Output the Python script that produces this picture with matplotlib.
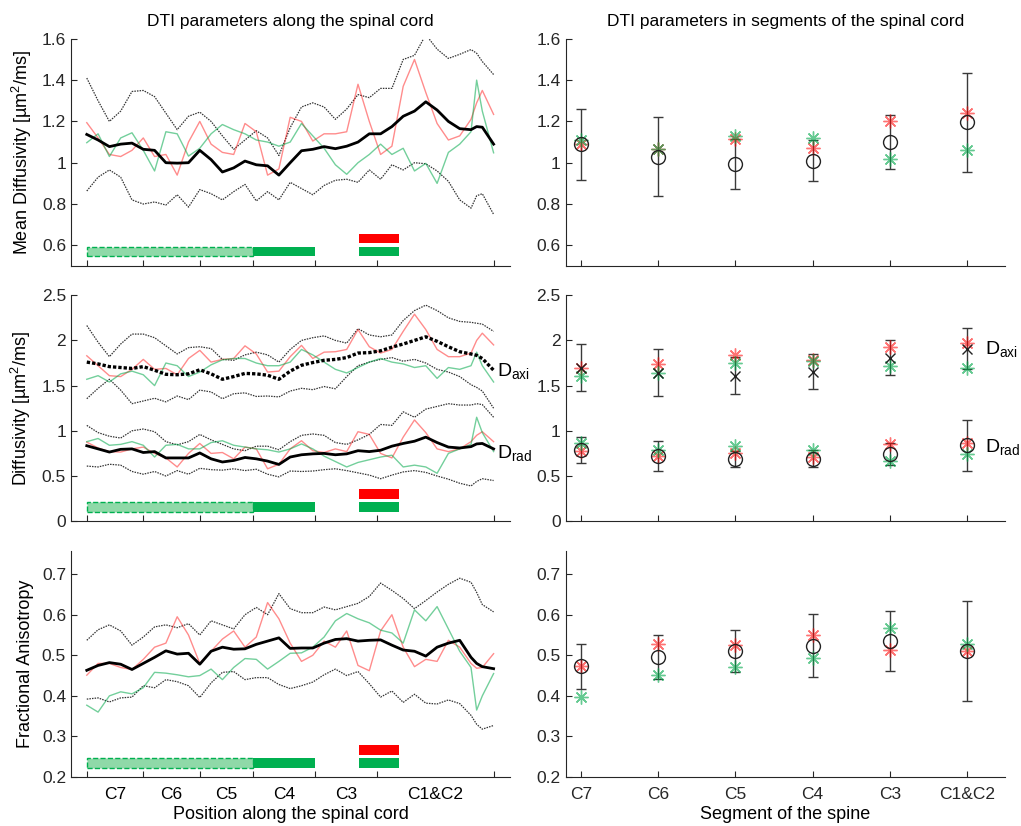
import numpy as np
import matplotlib
matplotlib.use("Agg")
import matplotlib.pyplot as plt
from matplotlib.patches import Rectangle
from matplotlib.transforms import blended_transform_factory

plt.rcParams['font.family'] = ['Liberation Sans', 'DejaVu Sans']
plt.rcParams['mathtext.fontset'] = 'custom'
plt.rcParams['mathtext.rm'] = 'Liberation Sans'
plt.rcParams['mathtext.it'] = 'Liberation Sans'
plt.rcParams['font.size'] = 12.5

# position along the cord (arbitrary units), segment boundaries and names
pos = list(range(0, 70, 2)) + [69, 70, 72]
bounds = [0, 10, 20, 29.4, 40.4, 51.4, 72]
segments = ['C7', 'C6', 'C5', 'C4', 'C3', 'C1&C2']

# mean diffusivity along the cord
md_mean = [1.137, 1.11, 1.078, 1.09, 1.095, 1.065, 1.06, 1.0, 0.998, 1.0, 1.06, 1.015, 0.955, 0.975,
           1.008, 0.99, 0.985, 0.94, 1.0, 1.058, 1.065, 1.078, 1.068, 1.08, 1.1, 1.14, 1.14, 1.175,
           1.225, 1.25, 1.295, 1.255, 1.2, 1.165, 1.16, 1.175, 1.172, 1.09]
md_hi = [1.41, 1.30, 1.20, 1.25, 1.345, 1.35, 1.32, 1.24, 1.16, 1.225, 1.245, 1.20, 1.13, 1.065,
         1.11, 1.155, 1.12, 1.035, 1.17, 1.27, 1.29, 1.27, 1.21, 1.26, 1.33, 1.315, 1.36, 1.36,
         1.50, 1.52, 1.62, 1.55, 1.505, 1.525, 1.548, 1.53, 1.49, 1.427]
md_lo = [0.863, 0.93, 0.965, 0.93, 0.82, 0.80, 0.81, 0.795, 0.845, 0.785, 0.87, 0.85, 0.82, 0.86,
         0.895, 0.815, 0.86, 0.82, 0.905, 0.875, 0.845, 0.89, 0.915, 0.92, 0.905, 0.965, 0.92, 0.99,
         0.965, 1.0, 0.995, 0.96, 0.91, 0.82, 0.78, 0.84, 0.85, 0.75]
md_red = [1.194, 1.12, 1.04, 1.03, 1.06, 1.12, 1.03, 1.04, 0.94, 1.1, 1.2, 1.09, 1.05, 1.04, 1.19,
          1.15, 0.94, 0.97, 1.22, 1.2, 1.105, 1.14, 1.14, 1.15, 1.38, 1.2, 1.04, 1.08, 1.37, 1.5,
          1.34, 1.19, 1.11, 1.13, 1.21, 1.29, 1.35, 1.234]
md_green = [1.097, 1.14, 1.03, 1.12, 1.145, 1.06, 0.96, 1.15, 1.14, 1.032, 1.07, 1.14, 1.185, 1.16,
            1.14, 1.11, 1.1, 1.08, 1.1, 1.19, 1.13, 1.07, 0.99, 0.944, 1.0, 1.04, 1.09, 1.04, 1.07,
            0.96, 0.997, 0.9, 1.05, 1.09, 1.15, 1.40, 1.25, 1.048]

# axial diffusivity along the cord
axi_mean = [1.76, 1.74, 1.71, 1.70, 1.69, 1.71, 1.67, 1.625, 1.62, 1.63, 1.675, 1.63, 1.57, 1.6,
            1.635, 1.63, 1.615, 1.57, 1.66, 1.725, 1.755, 1.78, 1.79, 1.81, 1.86, 1.865, 1.885,
            1.925, 1.96, 2.0, 2.04, 1.99, 1.93, 1.875, 1.85, 1.835, 1.8, 1.67]
axi_hi = [2.165, 1.98, 1.82, 1.96, 2.07, 2.07, 2.03, 1.94, 1.85, 1.92, 1.93, 1.91, 1.79, 1.78,
          1.84, 1.87, 1.84, 1.76, 1.9, 2.0, 2.03, 2.05, 2.0, 1.97, 2.13, 2.06, 2.04, 2.06, 2.22,
          2.33, 2.39, 2.33, 2.25, 2.21, 2.2, 2.19, 2.18, 2.1]
axi_lo = [1.355, 1.47, 1.57, 1.45, 1.30, 1.33, 1.36, 1.32, 1.385, 1.345, 1.45, 1.43, 1.355, 1.41,
          1.42, 1.38, 1.385, 1.375, 1.44, 1.47, 1.455, 1.49, 1.465, 1.6, 1.72, 1.76, 1.79, 1.81,
          1.77, 1.79, 1.75, 1.68, 1.65, 1.6, 1.51, 1.48, 1.44, 1.25]
axi_red = [1.83, 1.72, 1.61, 1.6, 1.68, 1.79, 1.68, 1.69, 1.62, 1.8, 1.89, 1.76, 1.79, 1.8, 1.94,
           1.85, 1.65, 1.66, 1.82, 1.945, 1.8, 1.87, 1.875, 1.9, 2.12, 1.93, 1.86, 1.9, 2.1, 2.29,
           2.12, 1.9, 1.82, 1.82, 1.86, 2.0, 2.08, 1.95]
axi_green = [1.57, 1.61, 1.54, 1.63, 1.66, 1.62, 1.5, 1.75, 1.72, 1.6, 1.65, 1.73, 1.785, 1.8,
             1.8, 1.75, 1.72, 1.72, 1.76, 1.9, 1.84, 1.76, 1.68, 1.64, 1.7, 1.76, 1.8, 1.76, 1.74,
             1.7, 1.72, 1.58, 1.7, 1.68, 1.72, 1.87, 1.72, 1.54]

# radial diffusivity along the cord
rad_mean = [0.835, 0.80, 0.765, 0.795, 0.8, 0.76, 0.77, 0.7, 0.7, 0.7, 0.755, 0.69, 0.655, 0.672,
            0.705, 0.69, 0.665, 0.628, 0.71, 0.735, 0.745, 0.75, 0.735, 0.745, 0.78, 0.77, 0.785,
            0.83, 0.86, 0.885, 0.93, 0.87, 0.82, 0.81, 0.825, 0.855, 0.86, 0.8]
rad_hi = [1.06, 0.98, 0.94, 0.92, 1.0, 1.02, 0.99, 0.88, 0.845, 0.88, 0.96, 0.9, 0.85, 0.8, 0.78,
          0.83, 0.83, 0.79, 0.88, 0.95, 0.965, 0.95, 0.87, 0.85, 0.9, 0.96, 1.07, 1.06, 1.21, 1.15,
          1.24, 1.27, 1.3, 1.285, 1.285, 1.3, 1.29, 1.15]
rad_lo = [0.61, 0.6, 0.63, 0.62, 0.55, 0.52, 0.55, 0.5, 0.56, 0.52, 0.585, 0.57, 0.565, 0.58,
          0.56, 0.575, 0.52, 0.49, 0.555, 0.55, 0.555, 0.57, 0.58, 0.56, 0.535, 0.51, 0.47, 0.51,
          0.545, 0.56, 0.54, 0.5, 0.465, 0.42, 0.39, 0.44, 0.47, 0.45]
rad_red = [0.875, 0.81, 0.77, 0.765, 0.8, 0.82, 0.75, 0.7, 0.6, 0.75, 0.86, 0.75, 0.76, 0.69,
           0.82, 0.8, 0.58, 0.63, 0.8, 0.89, 0.78, 0.76, 0.8, 0.77, 0.99, 0.96, 0.75, 0.7, 0.93,
           1.12, 0.98, 0.8, 0.77, 0.8, 0.88, 0.95, 0.99, 0.88]
rad_green = [0.88, 0.915, 0.84, 0.85, 0.88, 0.84, 0.71, 0.84, 0.85, 0.8, 0.8, 0.87, 0.89, 0.84,
             0.82, 0.8, 0.79, 0.765, 0.8, 0.855, 0.8, 0.72, 0.66, 0.6, 0.65, 0.68, 0.71, 0.73, 0.6,
             0.62, 0.6, 0.53, 0.75, 0.8, 0.85, 1.15, 0.98, 0.77]

# fractional anisotropy along the cord
fa_mean = [0.463, 0.475, 0.482, 0.478, 0.465, 0.48, 0.495, 0.511, 0.503, 0.505, 0.478, 0.51, 0.52,
           0.515, 0.516, 0.527, 0.535, 0.543, 0.517, 0.518, 0.518, 0.53, 0.539, 0.541, 0.535,
           0.537, 0.538, 0.525, 0.513, 0.51, 0.498, 0.52, 0.53, 0.537, 0.495, 0.48, 0.472, 0.467]
fa_hi = [0.537, 0.563, 0.575, 0.56, 0.525, 0.545, 0.57, 0.575, 0.568, 0.578, 0.55, 0.585, 0.575,
         0.565, 0.6, 0.618, 0.6, 0.652, 0.615, 0.605, 0.605, 0.619, 0.612, 0.62, 0.628, 0.645,
         0.678, 0.66, 0.64, 0.615, 0.635, 0.656, 0.675, 0.69, 0.68, 0.655, 0.625, 0.607]
fa_lo = [0.392, 0.395, 0.385, 0.395, 0.397, 0.425, 0.42, 0.44, 0.435, 0.425, 0.396, 0.432, 0.458,
         0.46, 0.44, 0.445, 0.445, 0.428, 0.418, 0.425, 0.434, 0.452, 0.466, 0.45, 0.46, 0.43,
         0.397, 0.412, 0.384, 0.404, 0.382, 0.38, 0.39, 0.381, 0.352, 0.33, 0.318, 0.327]
fa_red = [0.451, 0.48, 0.48, 0.47, 0.465, 0.49, 0.52, 0.53, 0.595, 0.55, 0.48, 0.51, 0.54, 0.56,
          0.52, 0.545, 0.63, 0.59, 0.53, 0.485, 0.5, 0.535, 0.52, 0.56, 0.475, 0.462, 0.56, 0.6,
          0.52, 0.472, 0.49, 0.485, 0.537, 0.52, 0.48, 0.468, 0.47, 0.504]
fa_green = [0.377, 0.36, 0.4, 0.41, 0.405, 0.42, 0.458, 0.456, 0.452, 0.447, 0.45, 0.466, 0.44,
            0.47, 0.492, 0.49, 0.466, 0.485, 0.505, 0.506, 0.52, 0.545, 0.585, 0.603, 0.59, 0.58,
            0.562, 0.555, 0.53, 0.612, 0.585, 0.62, 0.565, 0.51, 0.47, 0.365, 0.40, 0.455]

# per segment values (mean, sd, red group, green group)
seg_md_mean = [1.09, 1.03, 0.995, 1.01, 1.10, 1.195]
seg_md_sd = [0.172, 0.19, 0.12, 0.10, 0.13, 0.24]
seg_md_red = [1.09, 1.065, 1.115, 1.07, 1.20, 1.24]
seg_md_green = [1.11, 1.065, 1.13, 1.12, 1.02, 1.06]

seg_axi_mean = [1.70, 1.645, 1.61, 1.655, 1.81, 1.91]
seg_axi_sd = [0.26, 0.265, 0.205, 0.195, 0.19, 0.225]
seg_axi_red = [1.69, 1.74, 1.84, 1.78, 1.925, 1.97]
seg_axi_green = [1.61, 1.64, 1.75, 1.77, 1.715, 1.69]

seg_rad_mean = [0.785, 0.72, 0.69, 0.69, 0.745, 0.84]
seg_rad_sd = [0.145, 0.165, 0.09, 0.095, 0.12, 0.285]
seg_rad_red = [0.78, 0.72, 0.76, 0.71, 0.85, 0.86]
seg_rad_green = [0.86, 0.79, 0.83, 0.785, 0.67, 0.74]

seg_fa_mean = [0.473, 0.496, 0.511, 0.524, 0.536, 0.511]
seg_fa_sd = [0.056, 0.054, 0.051, 0.077, 0.074, 0.123]
seg_fa_red = [0.473, 0.529, 0.525, 0.55, 0.513, 0.511]
seg_fa_green = [0.396, 0.452, 0.47, 0.493, 0.567, 0.528]

# significance spans along the cord: (start, end)
span_light = (0, 29.4)
span_dark = (29.4, 40.4)
span_small = (48.1, 55.2)

md_ticks = [0.6, 0.8, 1, 1.2, 1.4, 1.6]
md_ticklabels = ['0.6', '0.8', '1', '1.2', '1.4', '1.6']
d_ticks = [0, 0.5, 1, 1.5, 2, 2.5]
d_ticklabels = ['0', '0.5', '1', '1.5', '2', '2.5']
fa_ticks = [0.2, 0.3, 0.4, 0.5, 0.6, 0.7]
fa_ticklabels = ['0.2', '0.3', '0.4', '0.5', '0.6', '0.7']

AX = '#262626'
RED = '#ff0000'
GREEN = '#00a84a'
DOT = (0, (1.2, 0.9))

fig = plt.figure(figsize=(10.21, 8.26), dpi=100)
lw_, rw_ = 0.0695, 0.43
rx = 0.554
rows = [(0.678, 0.275), (0.369, 0.2736), (0.0593, 0.2736)]

def style(ax):
    for s in ['top', 'right']:
        ax.spines[s].set_visible(False)
    for s in ['left', 'bottom']:
        ax.spines[s].set_color(AX)
        ax.spines[s].set_linewidth(0.8)
    ax.tick_params(direction='in', length=4, width=0.8, colors=AX, labelsize=12.5)

def left_panel(ax, ylim, ticks, labels, sets, show_x):
    style(ax)
    for mean, hi, lo, red, green, mean_ls in sets:
        ax.plot(pos, hi, color='#333333', lw=0.9, ls=DOT, zorder=2)
        ax.plot(pos, lo, color='#333333', lw=0.9, ls=DOT, zorder=2)
        ax.plot(pos, red, color=RED, lw=1.0, alpha=0.45, zorder=3)
        ax.plot(pos, green, color=GREEN, lw=1.0, alpha=0.55, zorder=3)
        if mean_ls == '-':
            ax.plot(pos, mean, color='black', lw=2.0, zorder=4)
        else:
            ax.plot(pos, mean, color='black', lw=2.4, ls=(0, (1, 0.6)), zorder=4)
    tr = blended_transform_factory(ax.transData, ax.transAxes)
    ax.add_patch(Rectangle((span_light[0], 0.042), span_light[1] - span_light[0], 0.042,
                           transform=tr, facecolor='#8fd9a8', edgecolor='#00b050',
                           ls='--', lw=1.0, zorder=5))
    ax.add_patch(Rectangle((span_dark[0], 0.042), span_dark[1] - span_dark[0], 0.042,
                           transform=tr, facecolor='#00b050', edgecolor='none', zorder=5))
    ax.add_patch(Rectangle((span_small[0], 0.042), span_small[1] - span_small[0], 0.042,
                           transform=tr, facecolor='#00b050', edgecolor='none', zorder=5))
    ax.add_patch(Rectangle((span_small[0], 0.099), span_small[1] - span_small[0], 0.042,
                           transform=tr, facecolor='#ff0000', edgecolor='none', zorder=5))
    ax.set_xlim(-2.8, 74.9)
    ax.set_ylim(*ylim)
    ax.set_yticks(ticks)
    ax.set_yticklabels(labels)
    ax.set_xticks(bounds)
    ax.set_xticklabels([])
    mids = [(bounds[i] + bounds[i + 1]) / 2 for i in range(len(segments))]
    ax.set_xticks(mids, minor=True)
    ax.tick_params(axis='x', which='minor', length=0, pad=7)
    if show_x:
        ax.set_xticklabels(segments, minor=True)
    else:
        ax.set_xticklabels([], minor=True)

def right_panel(ax, ylim, ticks, labels, sets, show_x):
    style(ax)
    x = np.arange(1, len(segments) + 1)
    for mean, sd, red, green, mk in sets:
        ax.errorbar(x, mean, yerr=sd, fmt='none', ecolor='#3a3a3a', elinewidth=1.0,
                    capsize=3.5, capthick=1.0, zorder=2)
        ax.plot(x, red, ls='none', marker=(8, 2, 0), ms=10, mew=1.0, color=RED, alpha=0.55, zorder=3)
        ax.plot(x, green, ls='none', marker=(8, 2, 0), ms=10, mew=1.0, color=GREEN, alpha=0.6, zorder=3)
        if mk == 'o':
            ax.plot(x, mean, ls='none', marker='o', ms=10, mfc='none', mec='#222222', mew=1.0, zorder=4)
        else:
            ax.plot(x, mean, ls='none', marker='x', ms=7, mec='#222222', mew=1.0, zorder=4)
    ax.set_xlim(0.8, 6.49)
    ax.set_ylim(*ylim)
    ax.set_yticks(ticks)
    ax.set_yticklabels(labels)
    ax.set_xticks(x)
    ax.tick_params(axis='x', pad=7)
    if show_x:
        ax.set_xticklabels(segments)
    else:
        ax.set_xticklabels([])

axs = []
for i, (b, h) in enumerate(rows):
    axs.append((fig.add_axes([lw_, b, rw_, h]), fig.add_axes([rx, b, rw_, h])))

# row 1: mean diffusivity
a, b_ = axs[0]
left_panel(a, (0.5, 1.6), md_ticks, md_ticklabels,
           [(md_mean, md_hi, md_lo, md_red, md_green, '-')], False)
a.set_ylabel('Mean Diffusivity [µm$^2$/ms]', fontsize=13, labelpad=6)
a.set_title('DTI parameters along the spinal cord', fontsize=12.5, pad=9)
right_panel(b_, (0.5, 1.6), md_ticks, md_ticklabels,
            [(seg_md_mean, seg_md_sd, seg_md_red, seg_md_green, 'o')], False)
b_.set_title('DTI parameters in segments of the spinal cord', fontsize=12.5, pad=9)

# row 2: axial and radial diffusivity
a, b_ = axs[1]
left_panel(a, (0, 2.5), d_ticks, d_ticklabels,
           [(axi_mean, axi_hi, axi_lo, axi_red, axi_green, ':'),
            (rad_mean, rad_hi, rad_lo, rad_red, rad_green, '-')], False)
a.set_ylabel('Diffusivity [µm$^2$/ms]', fontsize=13, labelpad=6)
a.text(72.6, 1.66, r'$\mathrm{D_{axi}}$', fontsize=14, va='center', ha='left', clip_on=False)
a.text(72.6, 0.76, r'$\mathrm{D_{rad}}$', fontsize=14, va='center', ha='left', clip_on=False)
right_panel(b_, (0, 2.5), d_ticks, d_ticklabels,
            [(seg_axi_mean, seg_axi_sd, seg_axi_red, seg_axi_green, 'x'),
             (seg_rad_mean, seg_rad_sd, seg_rad_red, seg_rad_green, 'o')], False)
b_.text(6.23, 1.9, r'$\mathrm{D_{axi}}$', fontsize=14, va='center', ha='left')
b_.text(6.23, 0.82, r'$\mathrm{D_{rad}}$', fontsize=14, va='center', ha='left')

# row 3: fractional anisotropy
a, b_ = axs[2]
left_panel(a, (0.2, 0.757), fa_ticks, fa_ticklabels,
           [(fa_mean, fa_hi, fa_lo, fa_red, fa_green, '-')], True)
a.set_ylabel('Fractional Anisotropy', fontsize=13, labelpad=6)
a.set_xlabel('Position along the spinal cord', fontsize=13, labelpad=3)
right_panel(b_, (0.2, 0.757), fa_ticks, fa_ticklabels,
            [(seg_fa_mean, seg_fa_sd, seg_fa_red, seg_fa_green, 'o')], True)
b_.set_xlabel('Segment of the spine', fontsize=13, labelpad=3)

plt.savefig('out.png', dpi=100)
